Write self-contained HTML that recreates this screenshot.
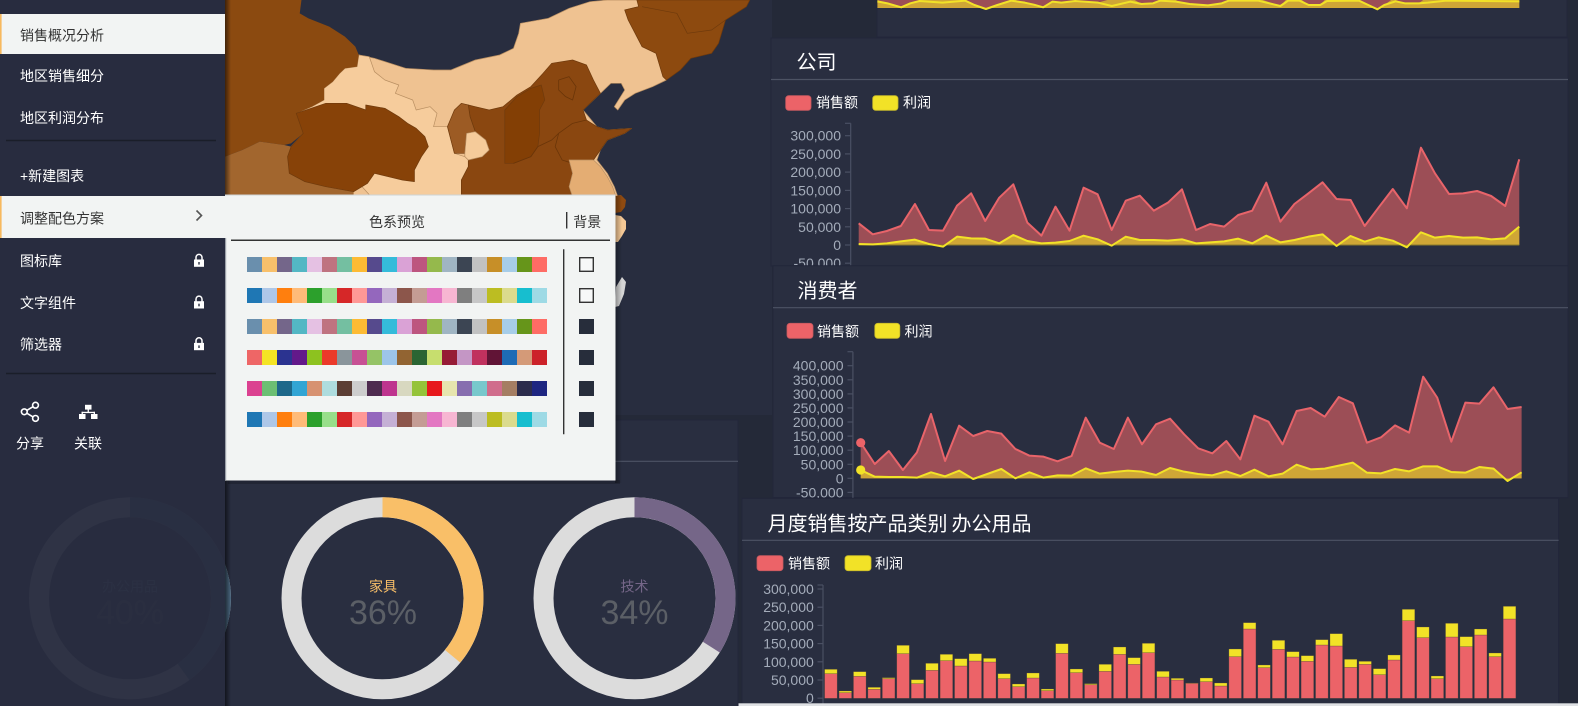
<!DOCTYPE html>
<html><head><meta charset="utf-8">
<style>
html,body{margin:0;padding:0;background:#242938;}
body{width:1578px;height:706px;overflow:hidden;}
svg{display:block;}
text{font-family:"Liberation Sans","Noto Sans CJK SC",sans-serif;}
</style></head><body>
<svg width="1578" height="706" viewBox="0 0 1578 706" xmlns="http://www.w3.org/2000/svg">
<defs>
<linearGradient id="shR" x1="0" x2="1" y1="0" y2="0"><stop offset="0" stop-color="#000" stop-opacity="0.55"/><stop offset="1" stop-color="#000" stop-opacity="0"/></linearGradient>
<linearGradient id="shP" x1="0" x2="1" y1="0" y2="0"><stop offset="0" stop-color="#000" stop-opacity="0.35"/><stop offset="1" stop-color="#000" stop-opacity="0"/></linearGradient>
<g id="row1">
<rect x="247" width="15" height="15" fill="#6a8fad"/><rect x="262" width="15" height="15" fill="#f8c06b"/><rect x="277" width="15" height="15" fill="#74668a"/><rect x="292" width="15" height="15" fill="#53b7c4"/><rect x="307" width="15" height="15" fill="#e5c1e3"/><rect x="322" width="15" height="15" fill="#bf7380"/><rect x="337" width="15" height="15" fill="#74bfa1"/><rect x="352" width="15" height="15" fill="#fdbb34"/><rect x="367" width="15" height="15" fill="#564a8d"/><rect x="382" width="15" height="15" fill="#35bbda"/><rect x="397" width="15" height="15" fill="#daa2d6"/><rect x="412" width="15" height="15" fill="#bd557f"/><rect x="427" width="15" height="15" fill="#95b94c"/><rect x="442" width="15" height="15" fill="#a0b5c3"/><rect x="457" width="15" height="15" fill="#3c4553"/><rect x="472" width="15" height="15" fill="#c2c2c2"/><rect x="487" width="15" height="15" fill="#c78f28"/><rect x="502" width="15" height="15" fill="#a7cde8"/><rect x="517" width="15" height="15" fill="#66951a"/><rect x="532" width="15" height="15" fill="#fe6c65"/>
</g>
<g id="row2">
<rect x="247" width="15" height="15" fill="#1f77b4"/><rect x="262" width="15" height="15" fill="#aec7e8"/><rect x="277" width="15" height="15" fill="#ff7f0e"/><rect x="292" width="15" height="15" fill="#ffbb78"/><rect x="307" width="15" height="15" fill="#2ca02c"/><rect x="322" width="15" height="15" fill="#98df8a"/><rect x="337" width="15" height="15" fill="#d62728"/><rect x="352" width="15" height="15" fill="#ff9896"/><rect x="367" width="15" height="15" fill="#9467bd"/><rect x="382" width="15" height="15" fill="#c5b0d5"/><rect x="397" width="15" height="15" fill="#8c564b"/><rect x="412" width="15" height="15" fill="#c49c94"/><rect x="427" width="15" height="15" fill="#e377c2"/><rect x="442" width="15" height="15" fill="#f7b6d2"/><rect x="457" width="15" height="15" fill="#7f7f7f"/><rect x="472" width="15" height="15" fill="#c7c7c7"/><rect x="487" width="15" height="15" fill="#bcbd22"/><rect x="502" width="15" height="15" fill="#dbdb8d"/><rect x="517" width="15" height="15" fill="#17becf"/><rect x="532" width="15" height="15" fill="#9edae5"/>
</g>
</defs>

<rect width="1578" height="706" fill="#242938"/>

<!-- ================= MAP PANEL ================= -->
<rect x="225" y="0" width="547" height="415" fill="#282d3f"/>
<g transform="translate(225,0) scale(0.34758,0.33333)" stroke-linejoin="round">
 <polygon fill="#efc291" stroke="#b98f62" stroke-width="0.7" vector-effect="non-scaling-stroke" points="385,165 430,175 520,205 600,210 650,210 720,180 790,165 830,145 845,100 850,70 930,55 990,25 1050,5 1100,0 1190,0 1190,20 1150,30 1160,60 1200,140 1240,160 1260,230 1270,240 1230,260 1180,280 1150,300 1130,330 1120,320 1150,270 1140,250 1110,250 1080,280 1060,300 1030,330 1070,380 1100,390 1170,385 1150,400 1100,420 1080,450 1070,480 1100,520 1120,560 1130,590 370,590 290,560 185,520 180,470 190,440 225,400 215,370 205,340 250,320 285,300 285,265 310,245 330,220 345,205 380,200"/>
 <polygon fill="#f6cc9c" stroke="#b98f62" stroke-width="0.7" vector-effect="non-scaling-stroke" points="385,165 415,170 430,215 460,240 500,255 490,280 540,300 550,330 590,320 610,340 600,380 640,380 660,460 690,470 700,480 700,500 680,540 680,590 420,590 205,340 250,320 285,300 285,265 310,245 330,220 345,205 380,200"/>
 <polygon fill="#8b4a10" points="0,0 220,0 215,40 240,55 300,80 345,110 375,140 385,165 380,200 345,205 330,220 310,245 285,265 285,300 250,320 205,340 215,370 225,400 190,430 170,435 100,425 50,450 0,470"/>
 <polygon fill="#a2662e" points="0,470 50,450 100,425 170,435 190,440 180,470 185,520 230,545 290,560 370,575 370,590 0,590"/>
 <polygon fill="#874208" stroke="#6f3a0c" stroke-width="0.7" vector-effect="non-scaling-stroke" points="205,340 290,310 350,310 405,330 405,315 460,325 500,350 525,370 550,385 575,410 585,440 565,470 545,510 545,545 510,540 470,530 430,520 410,550 370,575 290,560 230,545 185,520 180,470 190,440 225,400 215,370"/>
 <polygon fill="#8a4710" stroke="#6f3a0c" stroke-width="0.7" vector-effect="non-scaling-stroke" points="700,315 720,320 760,330 800,320 840,285 880,260 915,220 940,190 1000,180 1040,195 1060,240 1080,280 1060,300 1030,330 1040,360 1070,380 1100,390 1170,385 1150,400 1100,420 1080,450 1060,480 1000,490 1000,520 990,560 1000,590 680,590 680,540 700,500 700,480 740,470 760,450 750,420 720,395 705,350"/>
 <polygon fill="#9c5b24" stroke="#6f3a0c" stroke-width="0.7" vector-effect="non-scaling-stroke" points="640,380 660,330 680,310 700,315 705,350 720,395 695,400 690,460 660,460"/>
 <polygon fill="#f5cb9a" stroke="#b98f62" stroke-width="0.7" vector-effect="non-scaling-stroke" points="720,395 750,420 760,450 740,470 700,480 690,470 690,460 695,400"/>
 <polygon fill="#833f05" stroke="#6f3a0c" stroke-width="0.7" vector-effect="non-scaling-stroke" points="805,330 840,290 880,265 910,255 920,300 905,330 905,400 900,440 880,470 830,490 805,490 805,400"/>
 <polyline fill="none" stroke="#6a3508" stroke-width="0.8" vector-effect="non-scaling-stroke" points="960,400 1000,370 1040,360"/>
 <polyline fill="none" stroke="#6a3508" stroke-width="0.8" vector-effect="non-scaling-stroke" points="830,490 880,470 900,440 940,420 960,400 950,440 970,480 1000,490"/>
 <polyline fill="none" stroke="#6a3508" stroke-width="0.8" vector-effect="non-scaling-stroke" points="960,240 990,230 1010,260 1000,300 980,290 960,270 960,240"/>
 <polygon fill="#e4ad73" stroke="#b98f62" stroke-width="0.7" vector-effect="non-scaling-stroke" points="990,480 1060,480 1080,500 1100,530 1115,560 1125,590 1000,590 990,560 1000,520"/>
 <polygon fill="#8d4a0f" stroke="#6f3a0c" stroke-width="0.7" vector-effect="non-scaling-stroke" points="1185,0 1510,0 1500,20 1440,60 1420,130 1400,160 1340,175 1310,210 1270,240 1260,230 1240,160 1200,140 1160,60 1150,30 1190,20"/>
 <polyline fill="none" stroke="#6f3a0c" stroke-width="0.7" vector-effect="non-scaling-stroke" points="1200,20 1300,40 1330,100 1400,90 1440,60"/>
</g>
<polygon fill="#8f4a10" points="615,196 621,195 626,200 625,207 621,212 615,213"/>
<polygon fill="#f5c896" points="615,215 621,216 626,221 626,229 622,236 618,242 615,242"/>
<polygon fill="#d5d5d5" points="616,287 622,277 626,282 624,294 619,306 615,307"/>

<!-- ================= TOP PANEL REMNANT ================= -->
<rect x="877" y="-2" width="690" height="39" fill="#292e40" stroke="#22263a" stroke-width="1"/>
<g transform="translate(860,0) scale(0.45788,0.33333)" stroke-linejoin="round">
 <rect x="38" y="0" width="1402" height="24" fill="#cfa636"/>
 <polygon fill="#9c4e56" points="40,0 130,0 110,10 90,20 60,10 40,5"/>
 <polygon fill="#9c4e56" points="230,0 330,0 300,15 275,27 250,15"/>
 <polygon fill="#9c4e56" points="340,0 540,0 520,8 500,6 470,3 440,8 420,5 400,22 380,14 360,8"/>
 <polygon fill="#9c4e56" points="600,0 655,0 640,10 615,12"/>
 <polygon fill="#9c4e56" points="690,0 805,0 790,10 760,16 720,12 695,5"/>
 <polygon fill="#9c4e56" points="880,0 930,0 918,18"/>
 <polygon fill="#9c4e56" points="965,0 1015,0 1005,15 980,15"/>
 <polygon fill="#9c4e56" points="1090,0 1160,0 1145,15 1130,28 1110,15"/>
 <polygon fill="#9c4e56" points="1170,0 1230,0 1220,10 1190,10"/>
 <polyline fill="none" stroke="#f2e227" stroke-width="2" vector-effect="non-scaling-stroke" points="38,4 60,10 90,22 110,10 130,3 180,8 230,2 250,15 275,27 300,15 330,2 360,8 380,14 400,22 420,5 440,8 470,3 500,6 520,8 550,18 590,5 615,12 640,10 655,2 690,5 720,12 760,16 790,10 805,2 870,2 918,18 935,2 960,2 980,15 1005,15 1020,3 1090,2 1110,15 1130,28 1145,15 1170,4 1190,10 1220,10 1240,8 1280,2 1440,4"/>
</g>

<!-- ================= 公司 PANEL ================= -->
<rect x="771" y="38" width="797" height="228" fill="#292e40" stroke="#22263a" stroke-width="1"/>
<text x="796.5" y="69" font-size="20" fill="#ffffff">公司</text>
<line x1="771" y1="79.5" x2="1568" y2="79.5" stroke="#4d5364" stroke-width="1.2"/>
<rect x="785.7" y="95.7" width="25.3" height="14.6" rx="3" fill="#ec6368" stroke="#c85a60" stroke-width="0.8"/>
<text x="816" y="107.3" font-size="14" fill="#ffffff">销售额</text>
<rect x="872.7" y="95.7" width="25.3" height="14.6" rx="3" fill="#f2e227" stroke="#c9bb2a" stroke-width="0.8"/>
<text x="903" y="107.3" font-size="14" fill="#ffffff">利润</text>
<g font-size="14" fill="#a4acba" text-anchor="end">
 <text x="841" y="140.7">300,000</text>
 <text x="841" y="158.9">250,000</text>
 <text x="841" y="177.1">200,000</text>
 <text x="841" y="195.4">150,000</text>
 <text x="841" y="213.6">100,000</text>
 <text x="841" y="231.8">50,000</text>
 <text x="841" y="250">0</text>
 <text x="841" y="268.2">-50,000</text>
</g>
<g stroke="#4a5063" stroke-width="1.2">
 <line x1="850.7" y1="123.3" x2="850.7" y2="266"/>
 <line x1="845" y1="123.3" x2="850.7" y2="123.3"/>
 <line x1="845" y1="135.7" x2="850.7" y2="135.7"/>
 <line x1="845" y1="153.9" x2="850.7" y2="153.9"/>
 <line x1="845" y1="172.1" x2="850.7" y2="172.1"/>
 <line x1="845" y1="190.4" x2="850.7" y2="190.4"/>
 <line x1="845" y1="208.6" x2="850.7" y2="208.6"/>
 <line x1="845" y1="226.8" x2="850.7" y2="226.8"/>
 <line x1="845" y1="245" x2="850.7" y2="245"/>
 <line x1="845" y1="263.2" x2="850.7" y2="263.2"/>
</g>
<g transform="translate(858.7,0) scale(14.055,0.33333)" stroke-linejoin="round">
 <polygon fill="#9c4e56" points="0,735 0,670 1,703 2,693 3,678 4,612 5,690 6,692 7,617 8,580 9,663 10,593 11,553 12,668 13,707 14,620 15,692 16,563 17,583 18,690 19,602 20,587 21,632 22,608 23,568 24,690 25,672 26,680 27,645 28,632 29,548 30,665 31,612 32,580 33,547 34,597 35,600 36,678 37,622 38,567 39,625 40,443 41,520 42,582 43,580 44,573 45,588 46,618 47,478 47,735"/>
 <polyline fill="none" stroke="#e8646a" stroke-width="2" vector-effect="non-scaling-stroke" points="0,670 1,703 2,693 3,678 4,612 5,690 6,692 7,617 8,580 9,663 10,593 11,553 12,668 13,707 14,620 15,692 16,563 17,583 18,690 19,602 20,587 21,632 22,608 23,568 24,690 25,672 26,680 27,645 28,632 29,548 30,665 31,612 32,580 33,547 34,597 35,600 36,678 37,622 38,567 39,625 40,443 41,520 42,582 43,580 44,573 45,588 46,618 47,478"/>
 <polygon fill="#cfa636" points="0,735 0,732 1,733 2,730 3,724 4,719 5,732 6,740 7,710 8,715 9,716 10,730 11,705 12,723 13,730 14,728 15,723 16,707 17,718 18,737 19,710 20,720 21,720 22,722 23,718 24,730 25,727 26,724 27,716 28,730 29,707 30,727 31,720 32,710 33,703 34,738 35,708 36,725 37,712 38,722 39,742 40,697 41,713 42,708 43,713 44,712 45,718 46,715 47,680 47,735"/>
 <line x1="0" y1="735" x2="47" y2="735" stroke="#8a7a2a" stroke-width="1" vector-effect="non-scaling-stroke"/>
 <polyline fill="none" stroke="#f2e227" stroke-width="2" vector-effect="non-scaling-stroke" points="0,732 1,733 2,730 3,724 4,719 5,732 6,740 7,710 8,715 9,716 10,730 11,705 12,723 13,730 14,728 15,723 16,707 17,718 18,737 19,710 20,720 21,720 22,722 23,718 24,730 25,727 26,724 27,716 28,730 29,707 30,727 31,720 32,710 33,703 34,738 35,708 36,725 37,712 38,722 39,742 40,697 41,713 42,708 43,713 44,712 45,718 46,715 47,680"/>
</g>

<!-- ================= 消费者 PANEL ================= -->
<rect x="773" y="265.7" width="795" height="232" fill="#292e40" stroke="#22263a" stroke-width="1"/>
<text x="797.5" y="297.5" font-size="20" fill="#ffffff">消费者</text>
<line x1="773" y1="307.7" x2="1568" y2="307.7" stroke="#4d5364" stroke-width="1.2"/>
<rect x="787" y="323.3" width="26" height="15" rx="3" fill="#ec6368" stroke="#c85a60" stroke-width="0.8"/>
<text x="817" y="336.3" font-size="14" fill="#ffffff">销售额</text>
<rect x="874.8" y="323.3" width="25" height="15" rx="3" fill="#f2e227" stroke="#c9bb2a" stroke-width="0.8"/>
<text x="904.5" y="336.3" font-size="14" fill="#ffffff">利润</text>
<g font-size="14" fill="#a4acba" text-anchor="end">
 <text x="843.5" y="370.7">400,000</text>
 <text x="843.5" y="384.8">350,000</text>
 <text x="843.5" y="398.9">300,000</text>
 <text x="843.5" y="412.9">250,000</text>
 <text x="843.5" y="427">200,000</text>
 <text x="843.5" y="441.1">150,000</text>
 <text x="843.5" y="455.2">100,000</text>
 <text x="843.5" y="469.3">50,000</text>
 <text x="843.5" y="483.3">0</text>
 <text x="843.5" y="497.4">-50,000</text>
</g>
<g stroke="#4a5063" stroke-width="1.2">
 <line x1="852.9" y1="351.7" x2="852.9" y2="498"/>
 <line x1="847.5" y1="351.7" x2="852.9" y2="351.7"/>
 <line x1="847.5" y1="365.7" x2="852.9" y2="365.7"/>
 <line x1="847.5" y1="379.8" x2="852.9" y2="379.8"/>
 <line x1="847.5" y1="393.9" x2="852.9" y2="393.9"/>
 <line x1="847.5" y1="407.9" x2="852.9" y2="407.9"/>
 <line x1="847.5" y1="422" x2="852.9" y2="422"/>
 <line x1="847.5" y1="436.1" x2="852.9" y2="436.1"/>
 <line x1="847.5" y1="450.2" x2="852.9" y2="450.2"/>
 <line x1="847.5" y1="464.3" x2="852.9" y2="464.3"/>
 <line x1="847.5" y1="478.3" x2="852.9" y2="478.3"/>
 <line x1="847.5" y1="492.4" x2="852.9" y2="492.4"/>
</g>
<g transform="translate(860.7,260) scale(14.062,0.33333)" stroke-linejoin="round">
 <polygon fill="#9c4e56" points="0,655 0,548 1,612 2,573 3,630 4,577 5,462 6,603 7,497 8,528 9,513 10,521 11,567 12,587 13,590 14,604 15,588 16,473 17,548 18,567 19,473 20,553 21,493 22,476 23,523 24,565 25,580 26,543 27,598 28,467 29,485 30,553 31,453 32,444 33,470 34,411 35,430 36,548 37,532 38,496 39,518 40,350 41,413 42,545 43,428 44,431 45,382 46,447 47,441 47,655"/>
 <polyline fill="none" stroke="#e8646a" stroke-width="2" vector-effect="non-scaling-stroke" points="0,548 1,612 2,573 3,630 4,577 5,462 6,603 7,497 8,528 9,513 10,521 11,567 12,587 13,590 14,604 15,588 16,473 17,548 18,567 19,473 20,553 21,493 22,476 23,523 24,565 25,580 26,543 27,598 28,467 29,485 30,553 31,453 32,444 33,470 34,411 35,430 36,548 37,532 38,496 39,518 40,350 41,413 42,545 43,428 44,431 45,382 46,447 47,441"/>
 <polygon fill="#cfa636" points="0,655 0,630 1,650 2,651 3,651 4,653 5,637 6,649 7,632 8,657 9,642 10,627 11,655 12,637 13,653 14,646 15,647 16,625 17,641 18,636 19,632 20,635 21,645 22,624 23,635 24,642 25,646 26,634 27,648 28,629 29,649 30,641 31,614 32,628 33,626 34,617 35,608 36,638 37,640 38,627 39,634 40,619 41,619 42,636 43,638 44,621 45,626 46,663 47,637 47,655"/>
 <polyline fill="none" stroke="#f2e227" stroke-width="2" vector-effect="non-scaling-stroke" points="0,630 1,650 2,651 3,651 4,653 5,637 6,649 7,632 8,657 9,642 10,627 11,655 12,637 13,653 14,646 15,647 16,625 17,641 18,636 19,632 20,635 21,645 22,624 23,635 24,642 25,646 26,634 27,648 28,629 29,649 30,641 31,614 32,628 33,626 34,617 35,608 36,638 37,640 38,627 39,634 40,619 41,619 42,636 43,638 44,621 45,626 46,663 47,637"/>
</g>
<circle cx="860.7" cy="442.7" r="4.6" fill="#ec6368"/>
<circle cx="860.7" cy="470" r="4.6" fill="#f2e227"/>

<!-- ================= 办公用品 BAR PANEL ================= -->
<rect x="742" y="498.3" width="816.6" height="210" fill="#292e40" stroke="#22263a" stroke-width="1"/>
<text x="767.5" y="530.5" font-size="20" fill="#ffffff">月度销售按产品类别</text>
<text x="951.5" y="530.5" font-size="20" fill="#ffffff">办公用品</text>
<line x1="742" y1="540.3" x2="1558.6" y2="540.3" stroke="#4d5364" stroke-width="1.2"/>
<rect x="757" y="555.7" width="26" height="15" rx="3" fill="#ec6368" stroke="#c85a60" stroke-width="0.8"/>
<text x="788" y="568.5" font-size="14" fill="#ffffff">销售额</text>
<rect x="845" y="555.7" width="26" height="15" rx="3" fill="#f2e227" stroke="#c9bb2a" stroke-width="0.8"/>
<text x="875" y="568.5" font-size="14" fill="#ffffff">利润</text>
<g font-size="14" fill="#a4acba" text-anchor="end">
 <text x="813.8" y="594">300,000</text>
 <text x="813.8" y="612.2">250,000</text>
 <text x="813.8" y="630.4">200,000</text>
 <text x="813.8" y="648.6">150,000</text>
 <text x="813.8" y="666.8">100,000</text>
 <text x="813.8" y="685">50,000</text>
 <text x="813.8" y="703.2">0</text>
</g>
<g stroke="#4a5063" stroke-width="1.2">
 <line x1="823" y1="585" x2="823" y2="704"/>
 <line x1="817.5" y1="585" x2="823" y2="585"/>
 <line x1="817.5" y1="589" x2="823" y2="589"/>
 <line x1="817.5" y1="607.2" x2="823" y2="607.2"/>
 <line x1="817.5" y1="625.4" x2="823" y2="625.4"/>
 <line x1="817.5" y1="643.6" x2="823" y2="643.6"/>
 <line x1="817.5" y1="661.8" x2="823" y2="661.8"/>
 <line x1="817.5" y1="680" x2="823" y2="680"/>
 <line x1="817.5" y1="698.2" x2="823" y2="698.2"/>
</g>
<g transform="translate(824.6,490) scale(14.44,0.33333)" stroke="#5a4a3a" stroke-width="0.5" stroke-opacity="0.6">
<rect x="0" y="551" width="0.87" height="74" fill="#ec6368" vector-effect="non-scaling-stroke"/><rect x="0" y="538" width="0.87" height="13" fill="#f2e227" vector-effect="non-scaling-stroke"/>
<rect x="1" y="608" width="0.87" height="17" fill="#ec6368" vector-effect="non-scaling-stroke"/><rect x="1" y="603" width="0.87" height="5" fill="#f2e227" vector-effect="non-scaling-stroke"/>
<rect x="2" y="559" width="0.87" height="66" fill="#ec6368" vector-effect="non-scaling-stroke"/><rect x="2" y="545" width="0.87" height="14" fill="#f2e227" vector-effect="non-scaling-stroke"/>
<rect x="3" y="598" width="0.87" height="27" fill="#ec6368" vector-effect="non-scaling-stroke"/><rect x="3" y="592" width="0.87" height="6" fill="#f2e227" vector-effect="non-scaling-stroke"/>
<rect x="4" y="566" width="0.87" height="59" fill="#ec6368" vector-effect="non-scaling-stroke"/><rect x="4" y="563" width="0.87" height="3" fill="#f2e227" vector-effect="non-scaling-stroke"/>
<rect x="5" y="491" width="0.87" height="134" fill="#ec6368" vector-effect="non-scaling-stroke"/><rect x="5" y="466" width="0.87" height="25" fill="#f2e227" vector-effect="non-scaling-stroke"/>
<rect x="6" y="581" width="0.87" height="44" fill="#ec6368" vector-effect="non-scaling-stroke"/><rect x="6" y="569" width="0.87" height="12" fill="#f2e227" vector-effect="non-scaling-stroke"/>
<rect x="7" y="541" width="0.87" height="84" fill="#ec6368" vector-effect="non-scaling-stroke"/><rect x="7" y="520" width="0.87" height="21" fill="#f2e227" vector-effect="non-scaling-stroke"/>
<rect x="8" y="512" width="0.87" height="113" fill="#ec6368" vector-effect="non-scaling-stroke"/><rect x="8" y="493" width="0.87" height="19" fill="#f2e227" vector-effect="non-scaling-stroke"/>
<rect x="9" y="528" width="0.87" height="97" fill="#ec6368" vector-effect="non-scaling-stroke"/><rect x="9" y="506" width="0.87" height="22" fill="#f2e227" vector-effect="non-scaling-stroke"/>
<rect x="10" y="513" width="0.87" height="112" fill="#ec6368" vector-effect="non-scaling-stroke"/><rect x="10" y="491" width="0.87" height="22" fill="#f2e227" vector-effect="non-scaling-stroke"/>
<rect x="11" y="516" width="0.87" height="109" fill="#ec6368" vector-effect="non-scaling-stroke"/><rect x="11" y="505" width="0.87" height="11" fill="#f2e227" vector-effect="non-scaling-stroke"/>
<rect x="12" y="566" width="0.87" height="59" fill="#ec6368" vector-effect="non-scaling-stroke"/><rect x="12" y="551" width="0.87" height="15" fill="#f2e227" vector-effect="non-scaling-stroke"/>
<rect x="13" y="590" width="0.87" height="35" fill="#ec6368" vector-effect="non-scaling-stroke"/><rect x="13" y="582" width="0.87" height="8" fill="#f2e227" vector-effect="non-scaling-stroke"/>
<rect x="14" y="564" width="0.87" height="61" fill="#ec6368" vector-effect="non-scaling-stroke"/><rect x="14" y="549" width="0.87" height="15" fill="#f2e227" vector-effect="non-scaling-stroke"/>
<rect x="15" y="602" width="0.87" height="23" fill="#ec6368" vector-effect="non-scaling-stroke"/><rect x="15" y="597" width="0.87" height="5" fill="#f2e227" vector-effect="non-scaling-stroke"/>
<rect x="16" y="490" width="0.87" height="135" fill="#ec6368" vector-effect="non-scaling-stroke"/><rect x="16" y="461" width="0.87" height="29" fill="#f2e227" vector-effect="non-scaling-stroke"/>
<rect x="17" y="548" width="0.87" height="77" fill="#ec6368" vector-effect="non-scaling-stroke"/><rect x="17" y="537" width="0.87" height="11" fill="#f2e227" vector-effect="non-scaling-stroke"/>
<rect x="18" y="584" width="0.87" height="41" fill="#ec6368" vector-effect="non-scaling-stroke"/><rect x="18" y="581" width="0.87" height="3" fill="#f2e227" vector-effect="non-scaling-stroke"/>
<rect x="19" y="544" width="0.87" height="81" fill="#ec6368" vector-effect="non-scaling-stroke"/><rect x="19" y="523" width="0.87" height="21" fill="#f2e227" vector-effect="non-scaling-stroke"/>
<rect x="20" y="493" width="0.87" height="132" fill="#ec6368" vector-effect="non-scaling-stroke"/><rect x="20" y="471" width="0.87" height="22" fill="#f2e227" vector-effect="non-scaling-stroke"/>
<rect x="21" y="523" width="0.87" height="102" fill="#ec6368" vector-effect="non-scaling-stroke"/><rect x="21" y="503" width="0.87" height="20" fill="#f2e227" vector-effect="non-scaling-stroke"/>
<rect x="22" y="488" width="0.87" height="137" fill="#ec6368" vector-effect="non-scaling-stroke"/><rect x="22" y="460" width="0.87" height="28" fill="#f2e227" vector-effect="non-scaling-stroke"/>
<rect x="23" y="561" width="0.87" height="64" fill="#ec6368" vector-effect="non-scaling-stroke"/><rect x="23" y="544" width="0.87" height="17" fill="#f2e227" vector-effect="non-scaling-stroke"/>
<rect x="24" y="570" width="0.87" height="55" fill="#ec6368" vector-effect="non-scaling-stroke"/><rect x="24" y="565" width="0.87" height="5" fill="#f2e227" vector-effect="non-scaling-stroke"/>
<rect x="25" y="580" width="0.87" height="45" fill="#ec6368" vector-effect="non-scaling-stroke"/><rect x="25" y="579" width="0.87" height="1" fill="#f2e227" vector-effect="non-scaling-stroke"/>
<rect x="26" y="575" width="0.87" height="50" fill="#ec6368" vector-effect="non-scaling-stroke"/><rect x="26" y="564" width="0.87" height="11" fill="#f2e227" vector-effect="non-scaling-stroke"/>
<rect x="27" y="588" width="0.87" height="37" fill="#ec6368" vector-effect="non-scaling-stroke"/><rect x="27" y="579" width="0.87" height="9" fill="#f2e227" vector-effect="non-scaling-stroke"/>
<rect x="28" y="500" width="0.87" height="125" fill="#ec6368" vector-effect="non-scaling-stroke"/><rect x="28" y="477" width="0.87" height="23" fill="#f2e227" vector-effect="non-scaling-stroke"/>
<rect x="29" y="417" width="0.87" height="208" fill="#ec6368" vector-effect="non-scaling-stroke"/><rect x="29" y="398" width="0.87" height="19" fill="#f2e227" vector-effect="non-scaling-stroke"/>
<rect x="30" y="533" width="0.87" height="92" fill="#ec6368" vector-effect="non-scaling-stroke"/><rect x="30" y="525" width="0.87" height="8" fill="#f2e227" vector-effect="non-scaling-stroke"/>
<rect x="31" y="478" width="0.87" height="147" fill="#ec6368" vector-effect="non-scaling-stroke"/><rect x="31" y="451" width="0.87" height="27" fill="#f2e227" vector-effect="non-scaling-stroke"/>
<rect x="32" y="501" width="0.87" height="124" fill="#ec6368" vector-effect="non-scaling-stroke"/><rect x="32" y="485" width="0.87" height="16" fill="#f2e227" vector-effect="non-scaling-stroke"/>
<rect x="33" y="514" width="0.87" height="111" fill="#ec6368" vector-effect="non-scaling-stroke"/><rect x="33" y="497" width="0.87" height="17" fill="#f2e227" vector-effect="non-scaling-stroke"/>
<rect x="34" y="465" width="0.87" height="160" fill="#ec6368" vector-effect="non-scaling-stroke"/><rect x="34" y="449" width="0.87" height="16" fill="#f2e227" vector-effect="non-scaling-stroke"/>
<rect x="35" y="468" width="0.87" height="157" fill="#ec6368" vector-effect="non-scaling-stroke"/><rect x="35" y="431" width="0.87" height="37" fill="#f2e227" vector-effect="non-scaling-stroke"/>
<rect x="36" y="532" width="0.87" height="93" fill="#ec6368" vector-effect="non-scaling-stroke"/><rect x="36" y="508" width="0.87" height="24" fill="#f2e227" vector-effect="non-scaling-stroke"/>
<rect x="37" y="523" width="0.87" height="102" fill="#ec6368" vector-effect="non-scaling-stroke"/><rect x="37" y="514" width="0.87" height="9" fill="#f2e227" vector-effect="non-scaling-stroke"/>
<rect x="38" y="554" width="0.87" height="71" fill="#ec6368" vector-effect="non-scaling-stroke"/><rect x="38" y="536" width="0.87" height="18" fill="#f2e227" vector-effect="non-scaling-stroke"/>
<rect x="39" y="510" width="0.87" height="115" fill="#ec6368" vector-effect="non-scaling-stroke"/><rect x="39" y="495" width="0.87" height="15" fill="#f2e227" vector-effect="non-scaling-stroke"/>
<rect x="40" y="392" width="0.87" height="233" fill="#ec6368" vector-effect="non-scaling-stroke"/><rect x="40" y="358" width="0.87" height="34" fill="#f2e227" vector-effect="non-scaling-stroke"/>
<rect x="41" y="443" width="0.87" height="182" fill="#ec6368" vector-effect="non-scaling-stroke"/><rect x="41" y="411" width="0.87" height="32" fill="#f2e227" vector-effect="non-scaling-stroke"/>
<rect x="42" y="566" width="0.87" height="59" fill="#ec6368" vector-effect="non-scaling-stroke"/><rect x="42" y="558" width="0.87" height="8" fill="#f2e227" vector-effect="non-scaling-stroke"/>
<rect x="43" y="441" width="0.87" height="184" fill="#ec6368" vector-effect="non-scaling-stroke"/><rect x="43" y="400" width="0.87" height="41" fill="#f2e227" vector-effect="non-scaling-stroke"/>
<rect x="44" y="470" width="0.87" height="155" fill="#ec6368" vector-effect="non-scaling-stroke"/><rect x="44" y="440" width="0.87" height="30" fill="#f2e227" vector-effect="non-scaling-stroke"/>
<rect x="45" y="435" width="0.87" height="190" fill="#ec6368" vector-effect="non-scaling-stroke"/><rect x="45" y="417" width="0.87" height="18" fill="#f2e227" vector-effect="non-scaling-stroke"/>
<rect x="46" y="500" width="0.87" height="125" fill="#ec6368" vector-effect="non-scaling-stroke"/><rect x="46" y="489" width="0.87" height="11" fill="#f2e227" vector-effect="non-scaling-stroke"/>
<rect x="47" y="387" width="0.87" height="238" fill="#ec6368" vector-effect="non-scaling-stroke"/><rect x="47" y="349" width="0.87" height="38" fill="#f2e227" vector-effect="non-scaling-stroke"/>
</g>
<rect x="730" y="703.3" width="848" height="3" fill="#dfe1e4"/>

<!-- ================= DONUT PANEL ================= -->
<rect x="-5" y="420" width="743" height="290" fill="#292e40" stroke="#22263a" stroke-width="1"/>
<line x1="232" y1="461.3" x2="738" y2="461.3" stroke="#4d5364" stroke-width="1.2"/>
<!-- faint donut (under sidebar) -->
<circle cx="130" cy="598.3" r="91" fill="none" stroke="#dcdcdc" stroke-width="20"/>
<path d="M130 507.3 A91 91 0 0 1 183.5 671.9" fill="none" stroke="#4a6780" stroke-width="20"/>
<text x="130" y="591.3" font-size="14" fill="#6a8fad" text-anchor="middle">办公用品</text>
<text x="130" y="624" font-size="34" fill="#5b5f66" text-anchor="middle">40%</text>
<!-- 家具 -->
<circle cx="382.5" cy="598.3" r="91" fill="none" stroke="#dcdcdc" stroke-width="20"/>
<path d="M382.5 507.3 A91 91 0 0 1 452.6 656.3" fill="none" stroke="#f9bf68" stroke-width="20"/>
<text x="383" y="591.3" font-size="14" fill="#f9bf68" text-anchor="middle">家具</text>
<text x="383" y="624" font-size="34" fill="#5b5f66" text-anchor="middle">36%</text>
<!-- 技术 -->
<circle cx="634.5" cy="598.3" r="91" fill="none" stroke="#dcdcdc" stroke-width="20"/>
<path d="M634.5 507.3 A91 91 0 0 1 711.3 647.1" fill="none" stroke="#756688" stroke-width="20"/>
<text x="634.5" y="591.3" font-size="14" fill="#756688" text-anchor="middle">技术</text>
<text x="634.5" y="624" font-size="34" fill="#5b5f66" text-anchor="middle">34%</text>

<!-- ================= SIDEBAR ================= -->
<rect x="0" y="0" width="225" height="706" fill="#282d3f" fill-opacity="0.965"/>
<rect x="225" y="0" width="6" height="706" fill="url(#shR)"/>
<rect x="0" y="14" width="225" height="40" fill="#f2f4f3"/>
<rect x="0" y="14" width="1.6" height="40" fill="#f7b95e"/>
<text x="20" y="40.3" font-size="14" fill="#333333">销售概况分析</text>
<text x="20" y="81" font-size="14" fill="#ffffff">地区销售细分</text>
<text x="20" y="122.8" font-size="14" fill="#ffffff">地区利润分布</text>
<line x1="6" y1="140.5" x2="216" y2="140.5" stroke="#1a1e29" stroke-width="1.4"/>
<text x="20" y="181" font-size="14" fill="#ffffff">+新建图表</text>
<rect x="0" y="196" width="226" height="42" fill="#f2f4f3"/>
<rect x="0" y="196" width="1.6" height="42" fill="#f7b95e"/>
<text x="20" y="223.3" font-size="14" fill="#333333">调整配色方案</text>
<polyline points="196.5,210.5 201.5,215.5 196.5,220.5" fill="none" stroke="#555" stroke-width="1.6"/>
<text x="20" y="266" font-size="14" fill="#ffffff">图标库</text>
<text x="20" y="307.8" font-size="14" fill="#ffffff">文字组件</text>
<text x="20" y="349.3" font-size="14" fill="#ffffff">筛选器</text>
<g fill="#ffffff" stroke="#ffffff">
 <path d="M196 260 v-2.6 a3 3 0 0 1 6 0 v2.6" fill="none" stroke-width="1.5"/>
 <rect x="194" y="259.5" width="10" height="7.3" stroke="none"/>
 <path d="M196 301.7 v-2.6 a3 3 0 0 1 6 0 v2.6" fill="none" stroke-width="1.5"/>
 <rect x="194" y="301.2" width="10" height="7.3" stroke="none"/>
 <path d="M196 343.4 v-2.6 a3 3 0 0 1 6 0 v2.6" fill="none" stroke-width="1.5"/>
 <rect x="194" y="342.9" width="10" height="7.3" stroke="none"/>
</g>
<g fill="#282d3f"><rect x="198.3" y="262" width="1.4" height="2.6"/><rect x="198.3" y="303.7" width="1.4" height="2.6"/><rect x="198.3" y="345.4" width="1.4" height="2.6"/></g>
<line x1="6" y1="373.5" x2="216" y2="373.5" stroke="#1a1e29" stroke-width="1.4"/>
<!-- share icon -->
<g fill="none" stroke="#ffffff" stroke-width="1.6">
 <circle cx="35.5" cy="405.2" r="2.9"/>
 <circle cx="24.3" cy="411.8" r="2.9"/>
 <circle cx="35.5" cy="418.4" r="2.9"/>
 <line x1="27" y1="410.3" x2="33" y2="406.7"/>
 <line x1="27" y1="413.3" x2="33" y2="416.9"/>
</g>
<!-- hierarchy icon -->
<g fill="#ffffff">
 <rect x="85" y="404.8" width="6.5" height="4.8"/>
 <rect x="87.6" y="409.5" width="1.3" height="2.8"/>
 <rect x="81.6" y="411.8" width="13.4" height="1.3"/>
 <rect x="81.6" y="411.8" width="1.3" height="2.5"/>
 <rect x="93.7" y="411.8" width="1.3" height="2.5"/>
 <rect x="79" y="414" width="6.5" height="5"/>
 <rect x="91" y="414" width="6.5" height="5"/>
</g>
<text x="16" y="448.6" font-size="14" fill="#ffffff">分享</text>
<text x="74" y="448.6" font-size="14" fill="#ffffff">关联</text>

<!-- ================= POPUP ================= -->
<rect x="615" y="196" width="7" height="287" fill="url(#shP)"/>
<rect x="228" y="480" width="392" height="4" fill="#000" fill-opacity="0.18"/>
<rect x="225" y="195" width="390.5" height="285.5" fill="#f2f4f3"/>
<line x1="225" y1="195" x2="615.5" y2="195" stroke="#cfd3d6" stroke-width="1"/>
<line x1="225.6" y1="238" x2="225.6" y2="480" stroke="#9ba0a8" stroke-width="1.2"/>
<text x="369" y="227" font-size="14" fill="#333333">色系预览</text>
<line x1="566.7" y1="212" x2="566.7" y2="228.5" stroke="#333" stroke-width="1.4"/>
<text x="573.3" y="227" font-size="14" fill="#333333">背景</text>
<line x1="231" y1="240.3" x2="610" y2="240.3" stroke="#333" stroke-width="1.5"/>
<line x1="563.7" y1="249.3" x2="563.7" y2="434.3" stroke="#333" stroke-width="1.4"/>
<use href="#row1" transform="translate(0,257)"/>
<use href="#row2" transform="translate(0,288)"/>
<use href="#row1" transform="translate(0,319)"/>
<g transform="translate(0,350)">
<rect x="247" width="15" height="15" fill="#ee6666"/><rect x="262" width="15" height="15" fill="#f4e424"/><rect x="277" width="15" height="15" fill="#2b3390"/><rect x="292" width="15" height="15" fill="#63198a"/><rect x="307" width="15" height="15" fill="#8dc21f"/><rect x="322" width="15" height="15" fill="#eb3a2a"/><rect x="337" width="15" height="15" fill="#8a959b"/><rect x="352" width="15" height="15" fill="#c75194"/><rect x="367" width="15" height="15" fill="#95c366"/><rect x="382" width="15" height="15" fill="#9dc5e9"/><rect x="397" width="15" height="15" fill="#926432"/><rect x="412" width="15" height="15" fill="#2b6533"/><rect x="427" width="15" height="15" fill="#c7de6e"/><rect x="442" width="15" height="15" fill="#961b35"/><rect x="457" width="15" height="15" fill="#c496c5"/><rect x="472" width="15" height="15" fill="#c0315e"/><rect x="487" width="15" height="15" fill="#611436"/><rect x="502" width="15" height="15" fill="#1e6bb5"/><rect x="517" width="15" height="15" fill="#d49a78"/><rect x="532" width="15" height="15" fill="#cc2229"/>
</g>
<g transform="translate(0,381)">
<rect x="247" width="15" height="15" fill="#db4190"/><rect x="262" width="15" height="15" fill="#6cbf73"/><rect x="277" width="15" height="15" fill="#1e688a"/><rect x="292" width="15" height="15" fill="#32a5d4"/><rect x="307" width="15" height="15" fill="#d79271"/><rect x="322" width="15" height="15" fill="#aedcde"/><rect x="337" width="15" height="15" fill="#5c3e34"/><rect x="352" width="15" height="15" fill="#cdcdcd"/><rect x="367" width="15" height="15" fill="#4e2b4f"/><rect x="382" width="15" height="15" fill="#be348e"/><rect x="397" width="15" height="15" fill="#d8d8c0"/><rect x="412" width="15" height="15" fill="#95c339"/><rect x="427" width="15" height="15" fill="#e7181c"/><rect x="442" width="15" height="15" fill="#e7e5ae"/><rect x="457" width="15" height="15" fill="#876eaf"/><rect x="472" width="15" height="15" fill="#78c8cc"/><rect x="487" width="15" height="15" fill="#d06d8c"/><rect x="502" width="15" height="15" fill="#a57e63"/><rect x="517" width="15" height="15" fill="#2c2c4c"/><rect x="532" width="15" height="15" fill="#1e2681"/>
</g>
<use href="#row2" transform="translate(0,412)"/>
<rect x="579.7" y="257.7" width="13.6" height="13.6" fill="#f7f8f8" stroke="#333" stroke-width="1.4"/>
<rect x="579.7" y="288.7" width="13.6" height="13.6" fill="#f7f8f8" stroke="#333" stroke-width="1.4"/>
<rect x="579" y="319" width="15" height="15" fill="#272d3b"/>
<rect x="579" y="350" width="15" height="15" fill="#272d3b"/>
<rect x="579" y="381" width="15" height="15" fill="#272d3b"/>
<rect x="579" y="412" width="15" height="15" fill="#272d3b"/>
</svg>
</body></html>
